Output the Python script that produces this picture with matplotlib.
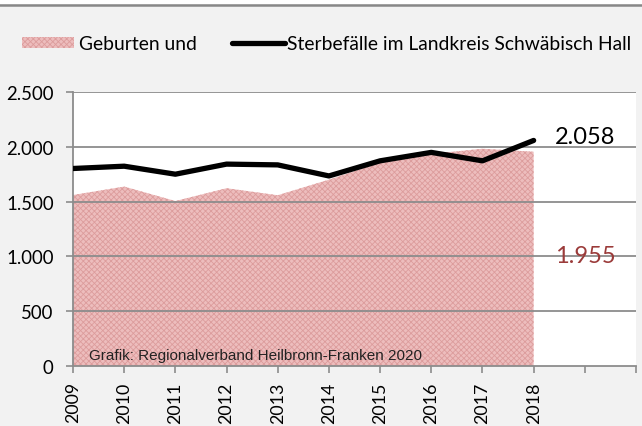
import matplotlib
matplotlib.use("Agg")
import matplotlib.pyplot as plt
from matplotlib.lines import Line2D
from matplotlib.patches import Rectangle

years = [2009, 2010, 2011, 2012, 2013, 2014, 2015, 2016, 2017, 2018]
geburten = [1560, 1637, 1505, 1622, 1558, 1700, 1855, 1935, 1982, 1955]
sterbefaelle = [1802, 1823, 1750, 1842, 1835, 1734, 1872, 1949, 1872, 2058]
xticks = list(range(2009, 2021))
xticklabels = [str(y) for y in years] + ["", ""]
yticks = [0, 500, 1000, 1500, 2000, 2500]
yticklabels = ["0", "500", "1.000", "1.500", "2.000", "2.500"]

plt.rcParams['font.family'] = ['Lato', 'DejaVu Sans']
plt.rcParams['hatch.linewidth'] = 0.6

AREA_FC = '#EDBDBD'
AREA_EC = '#DC9C9C'

W, H = 642, 427
fig = plt.figure(figsize=(W / 100, H / 100), dpi=100, facecolor='#F2F2F2')
ax = fig.add_axes([73 / W, 1 - 367 / H, (636 - 73) / W, (367 - 93) / H])
ax.set_facecolor('white')

ax.fill_between(years, geburten, 0, facecolor=AREA_FC, edgecolor=AREA_EC,
                hatch='xxxxxx', linewidth=0, zorder=1)
for yv in yticks[1:]:
    ax.axhline(yv, color='#8C8C8C', linewidth=1.3, zorder=2)
ax.plot(years, sterbefaelle, color='black', linewidth=3.8, solid_capstyle='round',
        solid_joinstyle='round', zorder=4)

ax.set_xlim(2009, 2020)
ax.set_ylim(0, 2500)
ax.set_xticks(xticks)
ax.set_xticklabels(xticklabels, rotation=90, fontsize=12.8)
ax.set_yticks(yticks)
ax.set_yticklabels(yticklabels, fontsize=13.4)
ax.tick_params(axis='both', direction='out', color='#8C8C8C', width=1.2, length=5)
ax.tick_params(axis='x', pad=6)
ax.tick_params(axis='y', pad=9)
for s in ['top', 'right']:
    ax.spines[s].set_visible(False)
for s in ['left', 'bottom']:
    ax.spines[s].set_color('#8C8C8C')
    ax.spines[s].set_linewidth(1.3)
    ax.spines[s].set_zorder(3)

ax.text(2018.42, 2095, "2.058", fontsize=17, color='black',
        ha='left', va='center', zorder=5)
ax.text(2018.42, 1006, "1.955", fontsize=17, color='#9B3B3A',
        ha='left', va='center', zorder=5)
ax.text(2009.31, 65, "Grafik: Regionalverband Heilbronn-Franken 2020",
        fontsize=11, family=['Liberation Sans Narrow', 'Liberation Sans'],
        color='#222222', ha='left', va='baseline', zorder=5)

# top border
fig.patches.append(Rectangle((0, 1 - 5 / H), 1, 5 / H, transform=fig.transFigure,
                             facecolor='white', edgecolor='none'))
fig.lines.append(Line2D([0, 1], [1 - 6 / H, 1 - 6 / H], transform=fig.transFigure,
                        color='#888888', linewidth=1.8))

# legend
ly = 1 - 44 / H
fig.patches.append(Rectangle((22 / W, ly - 5 / H), 52 / W, 11 / H, transform=fig.transFigure,
                             facecolor=AREA_FC, edgecolor=AREA_EC, hatch='xxxxxx',
                             linewidth=0))
fig.text(79 / W, ly, "Geburten und", fontsize=13.9, va='center', ha='left')
fig.lines.append(Line2D([232 / W, 285 / W], [ly, ly], transform=fig.transFigure,
                        color='black', linewidth=3.8, solid_capstyle='round'))
fig.text(287 / W, ly, "Sterbefälle im Landkreis Schwäbisch Hall", fontsize=13.9,
         va='center', ha='left')

fig.savefig('out.png', dpi=100, facecolor=fig.get_facecolor())
